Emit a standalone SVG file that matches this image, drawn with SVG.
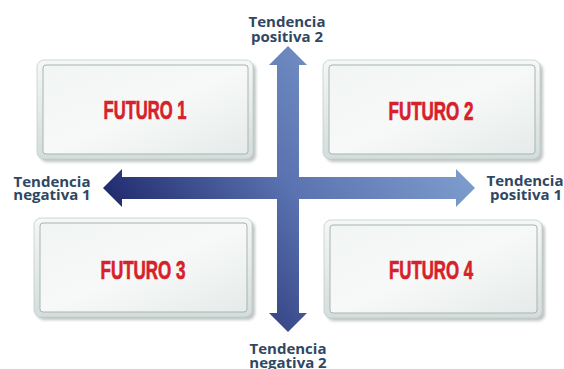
<svg xmlns="http://www.w3.org/2000/svg" width="564" height="369" viewBox="0 0 564 369">
  <defs>
    <linearGradient id="arrowGrad" gradientUnits="userSpaceOnUse" x1="100" y1="330" x2="480" y2="50">
      <stop offset="0.15" stop-color="#1c2569"/>
      <stop offset="0.5" stop-color="#5a72b0"/>
      <stop offset="0.85" stop-color="#80a0cf"/>
    </linearGradient>
    <linearGradient id="frame" x1="0" y1="0" x2="0" y2="1">
      <stop offset="0" stop-color="#f4f8f6"/>
      <stop offset="1" stop-color="#d3dddb"/>
    </linearGradient>
    <linearGradient id="panel" x1="0" y1="0" x2="1" y2="1">
      <stop offset="0" stop-color="#f1f5f4"/>
      <stop offset="0.5" stop-color="#f7f9f8"/>
      <stop offset="1" stop-color="#e5ebea"/>
    </linearGradient>
    <filter id="blur" x="-10%" y="-10%" width="120%" height="130%">
      <feGaussianBlur stdDeviation="1.8"/>
    </filter>
  </defs>
  <style>
    .shadow { fill: #8a9492; opacity: 0.55; filter: url(#blur); }
    .frame { fill: url(#frame); stroke: #c3cdca; stroke-width: 0.8; }
    .panel { fill: url(#panel); stroke: #a9b4b2; stroke-width: 1; }
    .futuro { font-family: "Liberation Sans Narrow", "Liberation Sans", sans-serif; font-weight: bold; font-size: 25px; fill: #d7212a; stroke: #d7212a; stroke-width: 0.7; text-anchor: middle; }
    .lbl { font-family: "Open Sans", "Liberation Sans", sans-serif; font-weight: 700; font-size: 15px; fill: #2f4762; text-anchor: middle; }
  </style>

  <g id="node-futuro1">
    <rect class="shadow" x="40" y="63" width="216" height="99" rx="7"/>
    <rect class="frame" x="37" y="60" width="216" height="99" rx="7"/>
    <rect class="panel" x="43" y="65" width="205" height="89" rx="3"/>
    <text class="futuro" x="145" y="119" textLength="83" lengthAdjust="spacingAndGlyphs">FUTURO 1</text>
  </g>

  <g id="node-futuro2">
    <rect class="shadow" x="326" y="63" width="217" height="99" rx="7"/>
    <rect class="frame" x="323" y="60" width="217" height="99" rx="7"/>
    <rect class="panel" x="329" y="65" width="206" height="89" rx="3"/>
    <text class="futuro" x="431" y="120" textLength="85" lengthAdjust="spacingAndGlyphs">FUTURO 2</text>
  </g>

  <g id="node-futuro3">
    <rect class="shadow" x="37" y="221" width="218" height="99" rx="7"/>
    <rect class="frame" x="34" y="218" width="218" height="99" rx="7"/>
    <rect class="panel" x="40" y="223" width="207" height="89" rx="3"/>
    <text class="futuro" x="143" y="279" textLength="85" lengthAdjust="spacingAndGlyphs">FUTURO 3</text>
  </g>

  <g id="node-futuro4">
    <rect class="shadow" x="327" y="223" width="218" height="98" rx="7"/>
    <rect class="frame" x="324" y="220" width="218" height="98" rx="7"/>
    <rect class="panel" x="330" y="225" width="207" height="88" rx="3"/>
    <text class="futuro" x="431" y="279" textLength="84" lengthAdjust="spacingAndGlyphs">FUTURO 4</text>
  </g>

  <g id="connectors">
    <path fill="url(#arrowGrad)" d="M288,46 L307,65 L299,65 L299,177 L456,177 L456,169 L475,188 L456,207 L456,199 L299,199 L299,313 L307,313 L288,332 L269,313 L277,313 L277,199 L122,199 L122,207 L103,188 L122,169 L122,177 L277,177 L277,65 L269,65 Z"/>
  </g>

  <g id="labels">
    <text class="lbl" id="label-pos2"><tspan x="287" y="27">Tendencia</tspan><tspan x="287" y="42">positiva 2</tspan></text>
    <text class="lbl" id="label-neg2"><tspan x="288" y="354">Tendencia</tspan><tspan x="288" y="368">negativa 2</tspan></text>
    <text class="lbl" id="label-neg1"><tspan x="52" y="187">Tendencia</tspan><tspan x="52" y="200">negativa 1</tspan></text>
    <text class="lbl" id="label-pos1"><tspan x="525" y="186">Tendencia</tspan><tspan x="526" y="200">positiva 1</tspan></text>
  </g>
</svg>
